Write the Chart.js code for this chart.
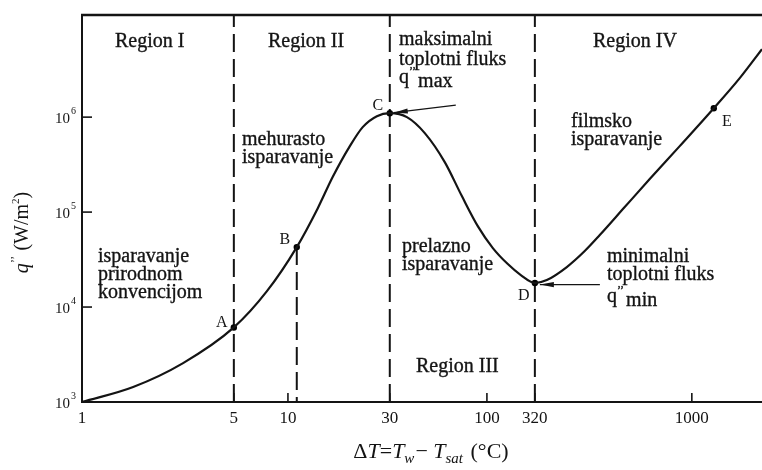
<!DOCTYPE html>
<html>
<head>
<meta charset="utf-8">
<script src="https://cdn.jsdelivr.net/npm/chart.js@4.4.1/dist/chart.umd.min.js"></script>
<style>
  html, body { margin: 0; padding: 0; background: #fff; }
  #wrap { width: 762px; height: 470px; position: relative; }
</style>
</head>
<body>
<div id="wrap"><canvas id="boiling" width="762" height="470"></canvas></div>
<script>
// Boiling curve: surface heat flux q'' against excess temperature ΔT = Tw − Tsat

// axis ticks
const tickValuesX = [1, 5, 10, 30, 100, 320, 1000];
const tickValuesY = [1e3, 1e4, 1e5, 1e6];

// the curve (ΔT in °C, q'' in W/m²)
const curveDeltaT = [1, 1.72, 2.92, 5, 7.64, 11, 13.8, 16.2, 19.5, 22.4, 26.1, 30,
  37.1, 46.3, 59.3, 73.3, 89.3, 115.5, 166, 227.6, 320,
  349, 403.5, 459.6, 512.6, 614.4, 736.6, 915.8, 1280, 1713, 2200];
const curveFlux = [1000, 1440, 2570, 6100, 14700, 42800, 110000, 234000, 495000, 785000, 1024000, 1100000,
  1000000, 678500, 336000, 147400, 71200, 41800, 28350, 21700, 17900,
  19240, 26370, 38860, 57280, 112900, 222500, 495100, 1240000, 2573000, 5200000];

// marked states on the curve
const pointNames = ['A', 'B', 'C', 'D', 'E'];
const pointDeltaT = [5, 11, 30, 320, 1280];
const pointFlux = [6100, 42800, 1100000, 17900, 1240000];

// boundaries between boiling regimes
const regimeBounds = [5, 30, 320];

const X_MIN = 1, X_MAX = 2200, Y_MIN = 1e3, Y_MAX = 1.19e7;

const SERIF = "'Liberation Serif', 'Times New Roman', serif";

// The ΔT axis is printed with uneven decade spacing; these are the decade
// positions of the printed ticks measured from ΔT = 1.
const axisStopDecades = [0, 0.741, 1.005, 1.502, 1.976, 2.210, 2.976];
const stopLogs = tickValuesX.map(Math.log10);

function decadeOf(v) {
  const l = Math.log10(v), n = stopLogs.length;
  if (l <= stopLogs[0]) return axisStopDecades[0] + (l - stopLogs[0]);
  for (let i = 1; i < n; i++) {
    if (l <= stopLogs[i]) {
      const t = (l - stopLogs[i - 1]) / (stopLogs[i] - stopLogs[i - 1]);
      return axisStopDecades[i - 1] + t * (axisStopDecades[i] - axisStopDecades[i - 1]);
    }
  }
  return axisStopDecades[n - 1] + (l - stopLogs[n - 1]);
}
function valueOfDecade(u) {
  const n = stopLogs.length;
  if (u <= axisStopDecades[0]) return Math.pow(10, stopLogs[0] + (u - axisStopDecades[0]));
  for (let i = 1; i < n; i++) {
    if (u <= axisStopDecades[i]) {
      const t = (u - axisStopDecades[i - 1]) / (axisStopDecades[i] - axisStopDecades[i - 1]);
      return Math.pow(10, stopLogs[i - 1] + t * (stopLogs[i] - stopLogs[i - 1]));
    }
  }
  return Math.pow(10, stopLogs[n - 1] + (u - axisStopDecades[n - 1]));
}

class PrintedLogScale extends Chart.LogarithmicScale {
  getPixelForValue(value) {
    if (value === undefined || value === null || isNaN(value) || value <= 0) return NaN;
    const a = decadeOf(this.min), b = decadeOf(this.max);
    return this.getPixelForDecimal((decadeOf(value) - a) / (b - a));
  }
  getValueForPixel(pixel) {
    const a = decadeOf(this.min), b = decadeOf(this.max);
    return valueOfDecade(a + this.getDecimalForPixel(pixel) * (b - a));
  }
}
PrintedLogScale.id = 'printedLog';
PrintedLogScale.defaults = {};
Chart.register(PrintedLogScale);

const INK = '#141414';

function richWidth(ctx, parts) {
  return parts.reduce((w, p) => { ctx.font = p.f; return w + ctx.measureText(p.t).width + (p.gap || 0); }, 0);
}
function drawRich(ctx, parts, x, y, centered, heavy) {
  let cx = centered ? x - richWidth(ctx, parts) / 2 : x;
  parts.forEach(p => {
    ctx.font = p.f;
    ctx.fillText(p.t, cx, y + (p.dy || 0));
    if (heavy) ctx.strokeText(p.t, cx, y + (p.dy || 0));
    cx += ctx.measureText(p.t).width + (p.gap || 0);
  });
}
function arrow(ctx, x0, y0, x1, y1) {
  const ang = Math.atan2(y1 - y0, x1 - x0);
  const len = 14, hw = 2.6;
  ctx.beginPath(); ctx.moveTo(x0, y0); ctx.lineTo(x1, y1); ctx.stroke();
  ctx.beginPath();
  ctx.moveTo(x1, y1);
  ctx.lineTo(x1 - len * Math.cos(ang) + hw * Math.sin(ang), y1 - len * Math.sin(ang) - hw * Math.cos(ang));
  ctx.lineTo(x1 - len * Math.cos(ang) - hw * Math.sin(ang), y1 - len * Math.sin(ang) + hw * Math.cos(ang));
  ctx.closePath(); ctx.fill();
}

const annotations = {
  id: 'annotations',
  afterDraw(chart) {
    const { ctx, chartArea: a, scales: { x, y } } = chart;
    ctx.save();
    ctx.strokeStyle = INK; ctx.fillStyle = INK;

    // frame top edge
    ctx.lineWidth = 2.5;
    ctx.beginPath(); ctx.moveTo(a.left - 1, a.top); ctx.lineTo(a.right, a.top); ctx.stroke();

    // inward tick marks
    ctx.lineWidth = 1.6;
    tickValuesX.forEach(v => {
      const px = x.getPixelForValue(v);
      ctx.beginPath(); ctx.moveTo(px, a.bottom); ctx.lineTo(px, a.bottom - 9); ctx.stroke();
    });
    tickValuesY.forEach(v => {
      const py = y.getPixelForValue(v);
      ctx.beginPath(); ctx.moveTo(a.left, py); ctx.lineTo(a.left + 10, py); ctx.stroke();
    });

    // y tick labels: powers of ten
    ctx.textBaseline = 'middle';
    tickValuesY.forEach(v => {
      const py = y.getPixelForValue(v);
      ctx.textAlign = 'right';
      ctx.font = '15px ' + SERIF;
      ctx.fillText('10', a.left - 12, py + 2);
      ctx.textAlign = 'left';
      ctx.font = '10px ' + SERIF;
      ctx.fillText(String(Math.round(Math.log10(v))), a.left - 11, py - 6);
    });

    // axis titles
    ctx.textBaseline = 'alphabetic';
    ctx.textAlign = 'left';
    const R = '22px ' + SERIF, I = 'italic 22px ' + SERIF, S = 'italic 15px ' + SERIF;
    drawRich(ctx, [
      { t: 'Δ', f: R }, { t: 'T', f: I }, { t: '=', f: R }, { t: 'T', f: I },
      { t: 'w', f: S, dy: 5, gap: 1 }, { t: '− ', f: R }, { t: 'T', f: I },
      { t: 'sat', f: S, dy: 5, gap: 2 }, { t: ' (°C)', f: R }
    ], 431, 458, true);

    ctx.save();
    ctx.translate(28, (a.top + a.bottom) / 2 + 24);
    ctx.rotate(-Math.PI / 2);
    const RY = '20px ' + SERIF, IY = 'italic 20px ' + SERIF;
    drawRich(ctx, [
      { t: 'q', f: IY }, { t: '\u2019\u2019', f: '13px ' + SERIF, dy: -9 },
      { t: ' (W/m', f: RY }, { t: '2', f: '11px ' + SERIF, dy: -9 }, { t: ')', f: RY }
    ], 0, 0, true);
    ctx.restore();

    // regime names and descriptions (slightly heavier strokes)
    const T = '20px ' + SERIF;
    ctx.font = T;
    ctx.lineWidth = 0.35;
    [
      ['Region I', 115, 47], ['Region II', 268, 47], ['Region IV', 593, 47], ['Region III', 416, 372],
      ['maksimalni', 399, 45], ['toplotni fluks', 399, 65],
      ['mehurasto', 242, 145], ['isparavanje', 242, 163],
      ['filmsko', 571, 127], ['isparavanje', 571, 145],
      ['isparavanje', 98, 262], ['prirodnom', 98, 280], ['konvencijom', 98, 298],
      ['prelazno', 402, 252], ['isparavanje', 402, 270],
      ['minimalni', 607, 262], ['toplotni fluks', 607, 280]
    ].forEach(([t, tx, ty]) => { ctx.fillText(t, tx, ty); ctx.strokeText(t, tx, ty); });
    drawRich(ctx, [{ t: 'q', f: T }, { t: '\u2019\u2019', f: '12px ' + SERIF, dy: -8, gap: 2 }, { t: 'max', f: T, dy: 4 }], 399, 83, false, true);
    drawRich(ctx, [{ t: 'q', f: T }, { t: '\u2019\u2019', f: '12px ' + SERIF, dy: -8, gap: 2 }, { t: 'min', f: T, dy: 4 }], 607, 302, false, true);

    // point letters
    const offsets = [[-12, -5], [-12, -7], [-12, -7], [-11, 13], [13, 14]];
    ctx.font = '16px ' + SERIF;
    ctx.textAlign = 'center'; ctx.textBaseline = 'middle';
    pointNames.forEach((n, i) => {
      const px = x.getPixelForValue(pointDeltaT[i]), py = y.getPixelForValue(pointFlux[i]);
      ctx.fillText(n, px + offsets[i][0], py + offsets[i][1]);
    });

    // arrows to the flux extremes
    ctx.lineWidth = 1.3;
    const cx = x.getPixelForValue(pointDeltaT[2]), cy = y.getPixelForValue(pointFlux[2]);
    arrow(ctx, x.getPixelForValue(68), y.getPixelForValue(1.34e6), cx + 4, cy - 0.5);
    const dx = x.getPixelForValue(pointDeltaT[3]), dy = y.getPixelForValue(pointFlux[3]);
    arrow(ctx, x.getPixelForValue(513), dy + 1.5, dx + 5, dy + 1.5);

    ctx.restore();
  }
};

const dashed = { borderColor: INK, borderWidth: 2, borderDash: [18, 7], pointRadius: 0, fill: false };

new Chart(document.getElementById('boiling').getContext('2d'), {
  type: 'line',
  data: {
    datasets: [
      {
        data: curveDeltaT.map((v, i) => ({ x: v, y: curveFlux[i] })),
        borderColor: INK, borderWidth: 2.2, pointRadius: 0, fill: false,
        cubicInterpolationMode: 'monotone'
      },
      {
        data: pointDeltaT.map((v, i) => ({ x: v, y: pointFlux[i] })),
        showLine: false, pointRadius: 3.2, pointBackgroundColor: '#000', pointBorderWidth: 0
      },
      ...regimeBounds.map(v => Object.assign({ data: [{ x: v, y: Y_MIN }, { x: v, y: Y_MAX }] }, dashed)),
      Object.assign({ data: [{ x: pointDeltaT[1], y: pointFlux[1] }, { x: pointDeltaT[1], y: Y_MIN }] }, dashed)
    ]
  },
  options: {
    responsive: false,
    animation: false,
    layout: { autoPadding: false, padding: { top: 15, left: 0, right: 0, bottom: 0 } },
    plugins: { legend: { display: false }, tooltip: { enabled: false } },
    scales: {
      x: {
        type: 'printedLog', min: X_MIN, max: X_MAX,
        afterBuildTicks: s => { s.ticks = tickValuesX.map(v => ({ value: v })); },
        afterFit: s => { s.height = 68; s.paddingLeft = 0; s.paddingRight = 0; },
        grid: { display: false, drawTicks: false },
        border: { display: true, color: INK, width: 2 },
        ticks: {
          autoSkip: false, maxRotation: 0, padding: 6, color: INK,
          font: { family: SERIF, size: 17 },
          callback: v => String(v)
        }
      },
      y: {
        type: 'logarithmic', min: Y_MIN, max: Y_MAX,
        afterBuildTicks: s => { s.ticks = tickValuesY.map(v => ({ value: v })); },
        afterFit: s => { s.width = 82; s.paddingTop = 0; s.paddingBottom = 0; },
        grid: { display: false, drawTicks: false },
        border: { display: true, color: INK, width: 2 },
        ticks: { display: false }
      }
    }
  },
  plugins: [annotations]
});
</script>
</body>
</html>
